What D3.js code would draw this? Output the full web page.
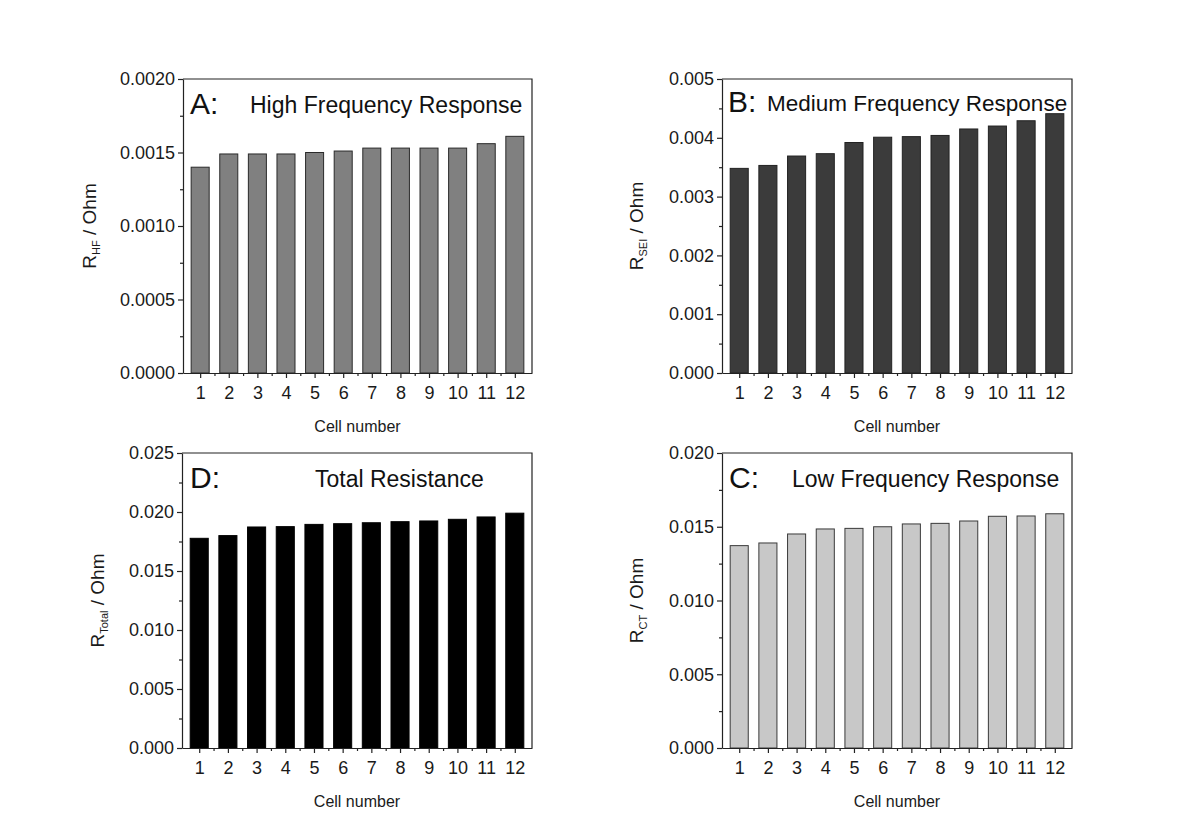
<!DOCTYPE html>
<html>
<head>
<meta charset="utf-8">
<script src="https://cdn.jsdelivr.net/npm/d3@7"></script>
<style>
  html, body { margin: 0; padding: 0; background: #fff; }
  svg { display: block; font-family: "Liberation Sans", Arial, sans-serif; }
  .axis path, .axis line { stroke: #222; stroke-width: 1.2; }
  .axis text { fill: #1a1a1a; font-size: 18px; font-family: "Liberation Sans", Arial, sans-serif; }
</style>
</head>
<body>
<svg id="chart" width="1196" height="832"></svg>
<script>
// Cell numbers along the x axis
const cellNumbers = [1, 2, 3, 4, 5, 6, 7, 8, 9, 10, 11, 12];

// Resistances per cell (Ohm)
const rHF    = [0.00140, 0.00149, 0.00149, 0.00149, 0.00150, 0.00151, 0.00153, 0.00153, 0.00153, 0.00153, 0.00156, 0.00161];
const rSEI   = [0.00348, 0.00353, 0.00369, 0.00373, 0.00392, 0.00401, 0.00402, 0.00404, 0.00415, 0.00420, 0.00429, 0.00441];
const rTotal = [0.01777, 0.01800, 0.01873, 0.01876, 0.01895, 0.01901, 0.01909, 0.01918, 0.01924, 0.01938, 0.01958, 0.01990];
const rCT    = [0.01372, 0.01390, 0.01451, 0.01485, 0.01489, 0.01500, 0.01519, 0.01523, 0.01539, 0.01571, 0.01573, 0.01588];

// Major tick values for each y axis
const ticksHF    = [0.0000, 0.0005, 0.0010, 0.0015, 0.0020];
const ticksSEI   = [0.000, 0.001, 0.002, 0.003, 0.004, 0.005];
const ticksTotal = [0.000, 0.005, 0.010, 0.015, 0.020, 0.025];
const ticksCT    = [0.000, 0.005, 0.010, 0.015, 0.020];

const panels = [
  { letter: "A:", title: "High Frequency Response", titleSize: 23, sub: "HF", values: rHF, ticks: ticksHF, fmt: ".4f",
    fill: "#808080", stroke: "#2a2a2a", x0: 183, x1: 532, y0: 79, y1: 373,
    letterX: 190, titleX: 250, textY: 114, labelX: 96 },
  { letter: "B:", title: "Medium Frequency Response", titleSize: 22.5, sub: "SEI", values: rSEI, ticks: ticksSEI, fmt: ".3f",
    fill: "#3b3b3b", stroke: "#222", x0: 722, x1: 1072, y0: 79, y1: 373,
    letterX: 728, titleX: 767, textY: 112, labelX: 643 },
  { letter: "D:", title: "Total Resistance", titleSize: 23, sub: "Total", values: rTotal, ticks: ticksTotal, fmt: ".3f",
    fill: "#000", stroke: "#000", x0: 182, x1: 532, y0: 453, y1: 748,
    letterX: 190, titleX: 315, textY: 488, labelX: 104 },
  { letter: "C:", title: "Low Frequency Response", titleSize: 23, sub: "CT", values: rCT, ticks: ticksCT, fmt: ".3f",
    fill: "#c8c8c8", stroke: "#3a3a3a", x0: 722, x1: 1072, y0: 453, y1: 748,
    letterX: 729, titleX: 792, textY: 488, labelX: 643 }
];

const svg = d3.select("#chart");

panels.forEach(p => {
  const g = svg.append("g");
  const x = d3.scaleLinear().domain([0.4, 12.6]).range([p.x0, p.x1]);
  const yMax = p.ticks[p.ticks.length - 1];
  const y = d3.scaleLinear().domain([0, yMax]).range([p.y1, p.y0]);
  const barW = 0.63;

  // bars
  g.selectAll("rect.bar")
    .data(cellNumbers.map((c, i) => ({ c, v: p.values[i] })))
    .join("rect")
    .attr("class", "bar")
    .attr("x", d => x(d.c - barW / 2))
    .attr("width", d => x(d.c + barW / 2) - x(d.c - barW / 2))
    .attr("y", d => y(d.v))
    .attr("height", d => y(0) - y(d.v))
    .attr("fill", p.fill)
    .attr("stroke", p.stroke)
    .attr("stroke-width", 1);

  // frame: top and right edges
  g.append("path")
    .attr("d", `M${p.x0},${p.y0}H${p.x1}V${p.y1}`)
    .attr("fill", "none").attr("stroke", "#222").attr("stroke-width", 1.2);

  // y axis: major and minor ticks
  const minorY = d3.pairs(p.ticks).map(([a, b]) => (a + b) / 2);
  g.append("g").attr("class", "axis")
    .attr("transform", `translate(${p.x0},0)`)
    .call(d3.axisLeft(y).tickValues(minorY).tickSize(3).tickFormat(""))
    .call(a => a.select(".domain").remove());
  g.append("g").attr("class", "axis")
    .attr("transform", `translate(${p.x0},0)`)
    .call(d3.axisLeft(y).tickValues(p.ticks).tickSize(5).tickSizeOuter(0).tickPadding(3).tickFormat(d3.format(p.fmt)));

  // x axis: major and minor ticks
  const minorX = d3.pairs(cellNumbers).map(([a, b]) => (a + b) / 2);
  g.append("g").attr("class", "axis")
    .attr("transform", `translate(0,${p.y1})`)
    .call(d3.axisBottom(x).tickValues(minorX).tickSize(3).tickFormat(""))
    .call(a => a.select(".domain").remove());
  g.append("g").attr("class", "axis")
    .attr("transform", `translate(0,${p.y1})`)
    .call(d3.axisBottom(x).tickValues(cellNumbers).tickSize(5).tickSizeOuter(0).tickPadding(8).tickFormat(d3.format("d")));

  // x axis title
  g.append("text")
    .attr("x", (p.x0 + p.x1) / 2).attr("y", p.y1 + 59)
    .attr("text-anchor", "middle").attr("font-size", 16).attr("fill", "#1a1a1a")
    .text("Cell number");

  // y axis title with subscript
  const yl = g.append("text")
    .attr("transform", `translate(${p.labelX},${(p.y0 + p.y1) / 2}) rotate(-90)`)
    .attr("text-anchor", "middle").attr("font-size", 19).attr("fill", "#1a1a1a");
  yl.append("tspan").text("R");
  yl.append("tspan").attr("font-size", 11).attr("dy", 4).text(p.sub);
  yl.append("tspan").attr("dy", -4).text(" / Ohm");

  // panel letter and title
  g.append("text").attr("x", p.letterX).attr("y", p.textY)
    .attr("font-size", 30).attr("fill", "#111").text(p.letter);
  g.append("text").attr("x", p.titleX).attr("y", p.textY - 1)
    .attr("font-size", p.titleSize).attr("fill", "#111").text(p.title);
});
</script>
</body>
</html>
